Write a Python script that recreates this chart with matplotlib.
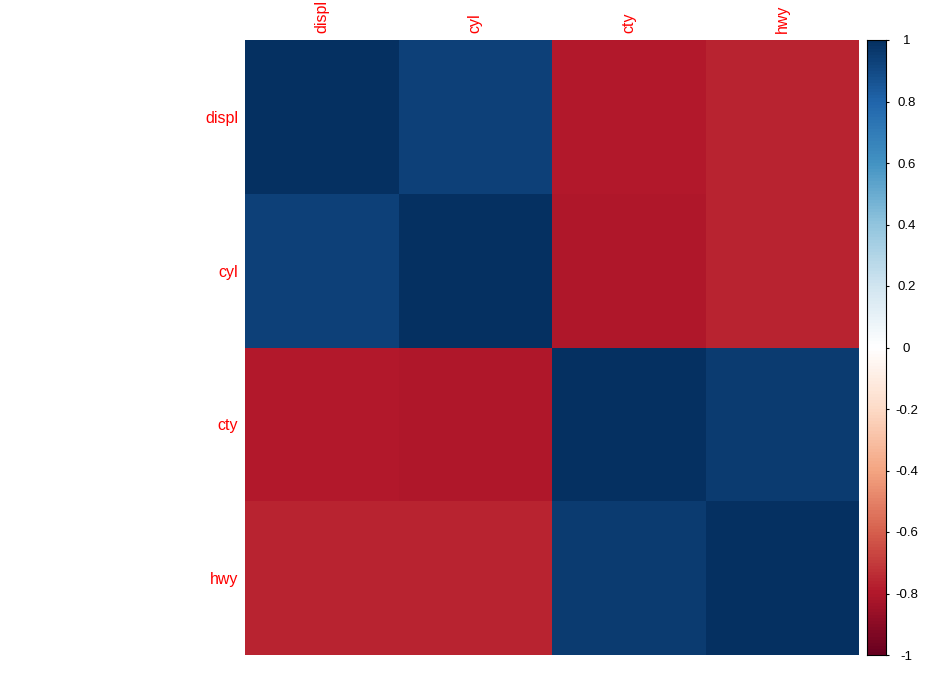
import numpy as np
import matplotlib
matplotlib.use("Agg")
import matplotlib.pyplot as plt
from matplotlib.colors import LinearSegmentedColormap, BoundaryNorm

plt.rcParams['font.family'] = ['Liberation Sans', 'DejaVu Sans']

# correlation matrix of the mpg variables
variables = ['displ', 'cyl', 'cty', 'hwy']
corr = np.array([
    [1.0000, 0.9302, -0.7985, -0.7660],
    [0.9302, 1.0000, -0.8058, -0.7619],
    [-0.7985, -0.8058, 1.0000, 0.9559],
    [-0.7660, -0.7619, 0.9559, 1.0000],
])
cbar_ticks = [-1, -0.8, -0.6, -0.4, -0.2, 0, 0.2, 0.4, 0.6, 0.8, 1]

# corrplot RdBu palette
palette = ["#67001F", "#B2182B", "#D6604D", "#F4A582", "#FDDBC7", "#FFFFFF",
           "#D1E5F0", "#92C5DE", "#4393C3", "#2166AC", "#053061"]
cmap = LinearSegmentedColormap.from_list('corrRdBu', palette, N=200)
norm = BoundaryNorm(np.linspace(-1, 1, 201), 200)

fig = plt.figure(figsize=(9.5, 6.86), dpi=100)
W, H = 950, 686

ax = fig.add_axes([245 / W, (H - 655) / H, 614 / W, 615 / H])
ax.pcolormesh(np.arange(5), np.arange(5), corr, cmap=cmap, norm=norm)
ax.set_xlim(0, 4)
ax.set_ylim(4, 0)
for s in ax.spines.values():
    s.set_visible(False)
ax.xaxis.tick_top()
ax.set_xticks(np.arange(4) + 0.5)
ax.set_xticklabels(variables, rotation=90, color='red', fontsize=11.5)
ax.set_yticks(np.arange(4) + 0.5)
ax.set_yticklabels(variables, color='red', fontsize=11.5)
ax.tick_params(length=0, pad=5)

# colour legend
cax = fig.add_axes([867 / W, (H - 655) / H, 19 / W, 615 / H])
grad = np.linspace(-1, 1, 200).reshape(-1, 1)
cax.pcolormesh([0, 1], np.linspace(-1, 1, 201), grad, cmap=cmap, norm=norm)
cax.set_xlim(0, 1)
cax.set_ylim(-1, 1)
cax.set_xticks([])
cax.yaxis.tick_right()
cax.set_yticks(cbar_ticks)
cax.set_yticklabels(['%g' % t for t in cbar_ticks], fontsize=9.5, ha='center')
cax.tick_params(axis='y', length=2.2, width=0.8, pad=12.5)
for s in cax.spines.values():
    s.set_linewidth(0.8)

fig.savefig('out.png', dpi=100)
